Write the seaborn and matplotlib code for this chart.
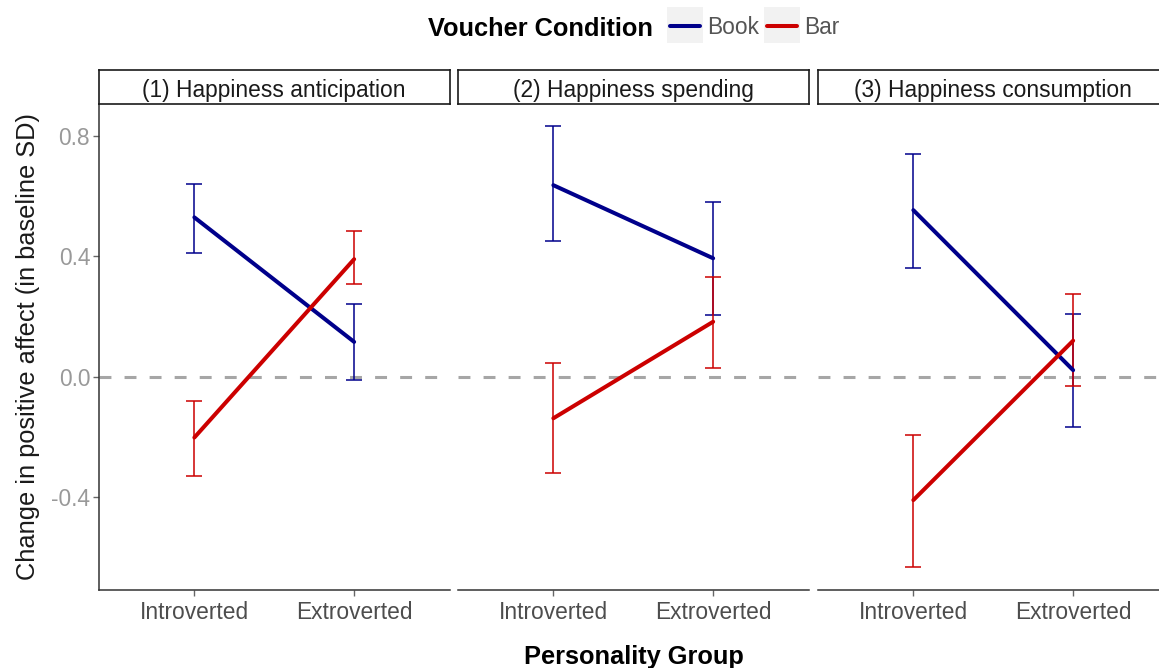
import numpy as np
import pandas as pd
import matplotlib.pyplot as plt
import seaborn as sns
from matplotlib.patches import Rectangle
from matplotlib.lines import Line2D

# Data (values per facet: [Introverted, Extroverted])
facets = ["(1) Happiness anticipation", "(2) Happiness spending", "(3) Happiness consumption"]
groups = ["Introverted", "Extroverted"]
conditions = ["Book", "Bar"]

book_mean = [[0.530, 0.116], [0.637, 0.394], [0.554, 0.022]]
book_low = [[0.412, -0.012], [0.450, 0.205], [0.361, -0.167]]
book_high = [[0.641, 0.241], [0.833, 0.582], [0.740, 0.209]]

bar_mean = [[-0.202, 0.391], [-0.138, 0.183], [-0.410, 0.120]]
bar_low = [[-0.330, 0.310], [-0.321, 0.030], [-0.634, -0.030]]
bar_high = [[-0.082, 0.485], [0.045, 0.332], [-0.194, 0.274]]

colors = {"Book": "#00008B", "Bar": "#CC0000"}

# Long table for seaborn
rows = []
for i, f in enumerate(facets):
    for j, g in enumerate(groups):
        rows.append((f, g, "Book", book_mean[i][j], book_low[i][j], book_high[i][j]))
        rows.append((f, g, "Bar", bar_mean[i][j], bar_low[i][j], bar_high[i][j]))
df = pd.DataFrame(rows, columns=["facet", "group", "condition", "mean", "low", "high"])

sns.set_style("white")
plt.rcParams['font.family'] = ['Liberation Sans', 'DejaVu Sans']

W, H = 1159, 668
fig = plt.figure(figsize=(W / 100, H / 100), dpi=100)


def px_axes(l, t, r, b):
    return fig.add_axes([l / W, 1 - b / H, (r - l) / W, (b - t) / H])


lefts = [98.5, 457.5, 817.5]
width = 351.5
top, bottom = 103.7, 590
tick_size = 16.4
title_size = 18.3

for i, f in enumerate(facets):
    ax = px_axes(lefts[i], top, lefts[i] + width, bottom)
    sub = df[df["facet"] == f]

    ax.axhline(0, color="#A6A6A6", lw=2.2, ls=(0, (3.9, 4.3)), zorder=1)

    for c in conditions:
        s = sub[sub["condition"] == c]
        ax.errorbar(s["group"].tolist(), s["mean"].values,
                    yerr=[s["mean"].values - s["low"].values, s["high"].values - s["mean"].values],
                    fmt="none", ecolor=colors[c], elinewidth=1.1, capsize=5.5, capthick=1.1, zorder=2)

    sns.lineplot(data=sub, x="group", y="mean", hue="condition", hue_order=conditions,
                 palette=colors, lw=2.9, sort=False, errorbar=None, legend=False, ax=ax, zorder=3)

    ax.set_xlim(-0.6, 1.6)
    ax.set_ylim(-0.709, 0.908)
    ax.set_xlabel("")
    ax.set_ylabel("")
    ax.set_yticks([-0.4, 0.0, 0.4, 0.8])
    ax.set_yticklabels(["-0.4", "0.0", "0.4", "0.8"])
    for side in ["top", "right"]:
        ax.spines[side].set_visible(False)
    ax.spines["bottom"].set_color("#333333")
    ax.spines["bottom"].set_linewidth(1.1)
    ax.tick_params(axis="x", direction="out", length=4, width=1, color="#666666",
                   labelsize=tick_size, labelcolor="#4D4D4D", pad=4, bottom=True)
    if i == 0:
        ax.spines["left"].set_color("#333333")
        ax.spines["left"].set_linewidth(1.1)
        ax.tick_params(axis="y", direction="out", length=4, width=1, color="#666666",
                       labelsize=tick_size, labelcolor="#999999", pad=2, left=True)
    else:
        ax.spines["left"].set_visible(False)
        ax.tick_params(axis="y", left=False, labelleft=False)

    # facet strip
    sax = px_axes(lefts[i], 70, lefts[i] + width, top)
    sax.set_facecolor("white")
    sax.set_xticks([])
    sax.set_yticks([])
    for sp in sax.spines.values():
        sp.set_color("#1A1A1A")
        sp.set_linewidth(1.2)
        sp.set_visible(True)
    sax.text(0.5, 0.40, f, ha="center", va="center", fontsize=tick_size,
             color="#1A1A1A", transform=sax.transAxes)

# axis titles
fig.text(28 / W, 1 - 347 / H, "Change in positive affect (in baseline SD)", rotation=90,
         ha="center", va="center", fontsize=title_size, color="#1A1A1A")
fig.text(634 / W, 1 - 657 / H, "Personality Group", ha="center", va="center",
         fontsize=title_size, fontweight="bold", color="black")

# legend on top
fig.text(428 / W, 1 - 29 / H, "Voucher Condition", ha="left", va="center",
         fontsize=title_size, fontweight="bold", color="black")
key_specs = [("Book", 667, 707), ("Bar", 764, 804)]
for name, kx, lx in key_specs:
    fig.add_artist(Rectangle((kx / W, 1 - 43 / H), 36 / W, 36 / H, transform=fig.transFigure,
                             facecolor="#F2F2F2", edgecolor="none"))
    fig.add_artist(Line2D([(kx + 3) / W, (kx + 33) / W], [1 - 26 / H, 1 - 26 / H],
                          transform=fig.transFigure, color=colors[name], lw=2.9))
    fig.text(lx / W, 1 - 28 / H, name, ha="left", va="center", fontsize=tick_size, color="#555555")

fig.savefig("out.png", dpi=100)
